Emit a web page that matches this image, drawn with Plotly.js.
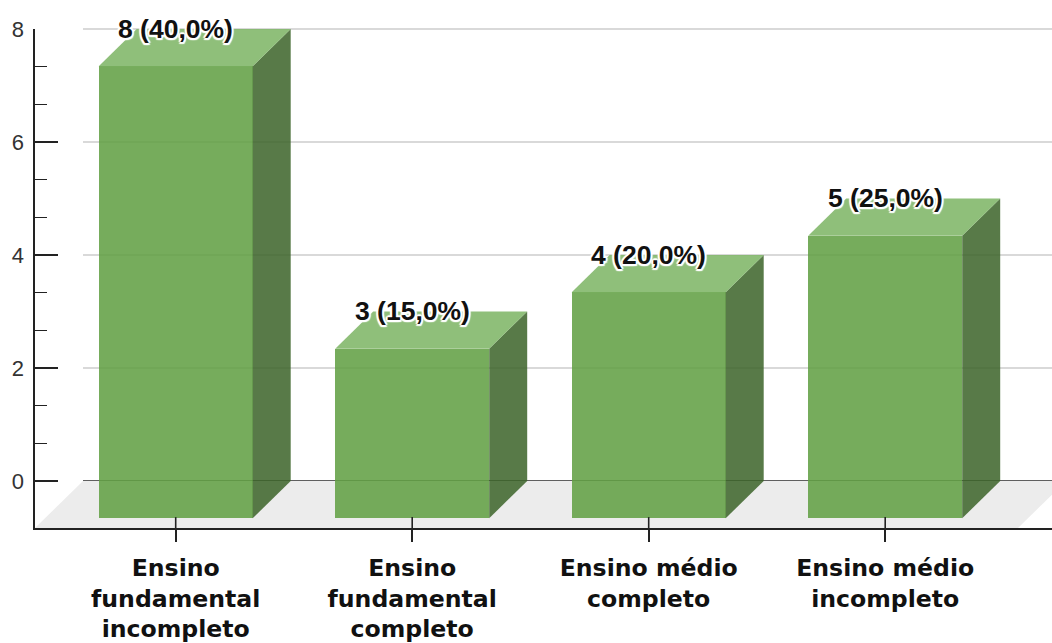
<!DOCTYPE html>
<html>
<head>
<meta charset="utf-8">
<script src="https://cdn.plot.ly/plotly-3.0.1.min.js"></script>
<style>html,body{margin:0;padding:0;background:#fff;overflow:hidden}</style>
</head>
<body>
<div id="chart" style="width:1052px;height:643px"></div>
<script>
const categories = ["Ensino<br>fundamental<br>incompleto", "Ensino<br>fundamental<br>completo", "Ensino médio<br>completo", "Ensino médio<br>incompleto"];
const counts = [8, 3, 4, 5];
const percents = [40, 15, 20, 25];
const yTicks = [0, 2, 4, 6, 8];
const yMinorTicks = [2/3, 4/3, 8/3, 10/3, 14/3, 16/3, 20/3, 22/3];

// Geometry of the pseudo-3D look, in axis units
const W = 1052, H = 643, L = 35, T = 29, B = 115;
const unitX = 236.5, unitY = 56.45;
const x0px = 175.7, y0px = 481;
const xRange = [(L - x0px) / unitX, (W - x0px) / unitX];
const yRange = [(y0px - (H - B)) / unitY, 8];
const barW = 154 / unitX, depthX = 38 / unitX, depthY = 0.66;
const floorDX = 48 / unitX, floorDY = 47 / unitY;

const frontColor = "rgba(98,160,68,0.87)";
const sideColor = "rgba(60,100,42,0.86)";
const topColor = "rgba(125,180,100,0.86)";

const idx = categories.map((_, i) => i);

const traces = [{
  type: "bar", x: idx, y: counts, base: counts.map(() => -depthY), width: barW,
  marker: {color: frontColor, line: {width: 0}}, hoverinfo: "skip", showlegend: false
}];
counts.forEach((v, i) => {
  const l = i - barW / 2, r = i + barW / 2;
  traces.push({
    type: "scatter", mode: "none", fill: "toself", fillcolor: sideColor, hoverinfo: "skip", showlegend: false,
    x: [r, r, r + depthX, r + depthX, r], y: [-depthY, v - depthY, v, 0, -depthY]
  });
  traces.push({
    type: "scatter", mode: "none", fill: "toself", fillcolor: topColor, hoverinfo: "skip", showlegend: false,
    x: [l, r, r + depthX, l + depthX, l], y: [v - depthY, v - depthY, v, v, v - depthY]
  });
});

const yPaper = v => (v - yRange[0]) / (yRange[1] - yRange[0]);
const xGridStart = (83 - x0px) / unitX;
const shapes = [{
  type: "path", layer: "below", xref: "x", yref: "y", line: {width: 0}, fillcolor: "#ececec",
  path: `M ${xRange[0]} ${yRange[0]} L ${xRange[0] + floorDX} ${yRange[0] + floorDY} L ${xRange[1] + 14 / unitX} ${yRange[0] + floorDY} L ${xRange[1] + 14 / unitX - floorDX} ${yRange[0]} Z`
}];
yTicks.forEach(v => shapes.push({
  type: "line", layer: "below", xref: "x", yref: "paper",
  x0: xGridStart, x1: xRange[1], y0: yPaper(v), y1: yPaper(v),
  line: {color: v === 0 ? "#2a2a2a" : "#cccccc", width: 1.4}
}));
idx.forEach(i => shapes.push({
  type: "line", layer: "above", xref: "x", yref: "y",
  x0: i, x1: i, y0: yRange[0], y1: -depthY + 0.02,
  line: {color: "#222222", width: 1.6}
}));

const halo = ["-1.5px -1.5px 1px #fff", "1.5px -1.5px 1px #fff", "-1.5px 1.5px 1px #fff", "1.5px 1.5px 1px #fff", "0 2px 1px #fff", "0 -2px 1px #fff", "2px 0 1px #fff", "-2px 0 1px #fff"].join(",");
const annotations = counts.map((v, i) => ({
  x: i, y: v, xref: "x", yref: "y", showarrow: false, xanchor: "center", yanchor: "middle",
  text: `${v} (${percents[i].toFixed(1).replace(".", ",")}%)`,
  font: {family: "Liberation Sans", size: 26.5, color: "#111111", weight: "bold", shadow: halo}
}));

const layout = {
  width: W, height: H, paper_bgcolor: "#fff", plot_bgcolor: "#fff",
  margin: {l: L, r: 0, t: T, b: B, pad: 0},
  bargap: 0, showlegend: false,
  xaxis: {
    type: "linear", range: xRange, tickmode: "array", tickvals: idx, ticktext: categories,
    ticks: "outside", ticklen: 12, tickwidth: 1.6, tickcolor: "#222222",
    showline: true, linecolor: "#222222", linewidth: 1.6, showgrid: false, zeroline: false,
    tickangle: 0, ticklabelstandoff: 6,
    tickfont: {family: "DejaVu Sans", size: 23.6, color: "#111111", weight: "bold"}
  },
  yaxis: {
    range: yRange, tickmode: "array", tickvals: yTicks, ticktext: yTicks.map(String),
    ticks: "inside", ticklen: 23, tickwidth: 1.6, tickcolor: "#222222",
    showline: true, linecolor: "#222222", linewidth: 1.6, showgrid: false, zeroline: false,
    ticklabelstandoff: 5,
    tickfont: {family: "Liberation Sans", size: 22, color: "#333333"},
    minor: {tickmode: "array", tickvals: yMinorTicks, ticks: "inside", ticklen: 12, tickwidth: 1.5, tickcolor: "#222222", showgrid: false}
  },
  shapes: shapes, annotations: annotations
};

Plotly.newPlot("chart", traces, layout, {displayModeBar: false, staticPlot: true});
</script>
</body>
</html>
